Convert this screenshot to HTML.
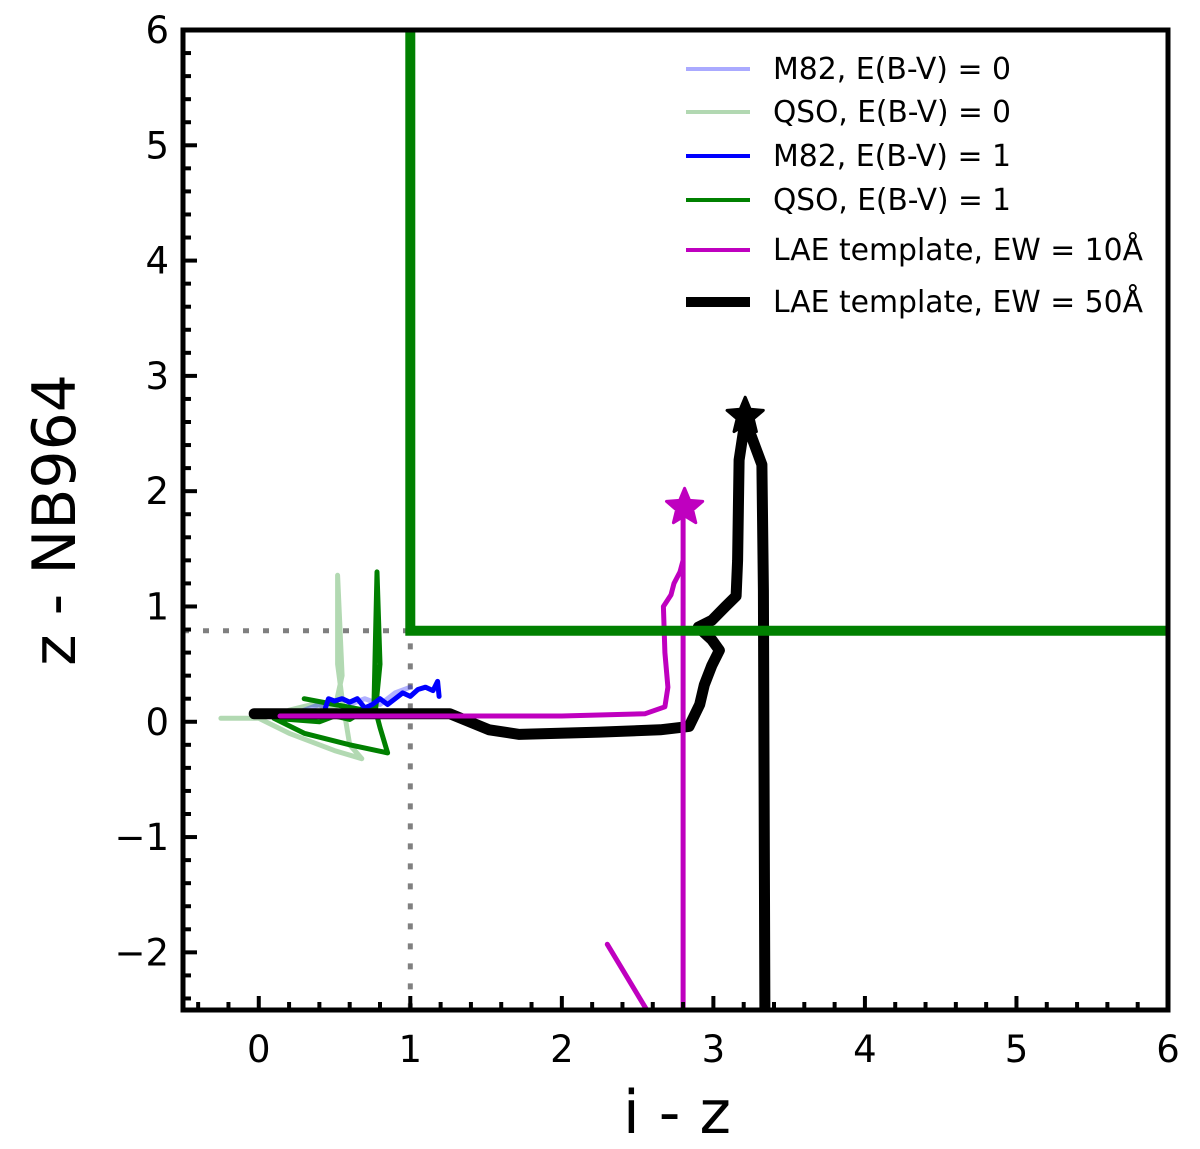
<!DOCTYPE html>
<html><head><meta charset="utf-8"><style>
body{margin:0;background:#fff}
svg{display:block;font-family:"DejaVu Sans","Liberation Sans",sans-serif}
</style></head><body>
<svg id="chart" width="1200" height="1149" viewBox="0 0 1200 1149" xmlns="http://www.w3.org/2000/svg"></svg>
<script>
const xTicks=[0,1,2,3,4,5,6];
const yTicks=[-2,-1,0,1,2,3,4,5,6];
const m82e0X=[0.2,0.3,0.4,0.5,0.6,0.7,0.8,0.9,1.0];
const m82e0Y=[0.05,0.1,0.15,0.05,0.15,0.2,0.15,0.25,0.3];
const qsoe0X=[-0.25,0.0,0.2,0.5,0.68,0.6,0.55,0.52,0.52,0.55,0.5,0.3,0.2,0.35,0.5];
const qsoe0Y=[0.03,0.03,-0.1,-0.25,-0.32,-0.2,0.2,0.5,1.27,0.4,0.1,0.05,0.1,0.15,0.13];
const m82e1X=[0.44,0.46,0.5,0.55,0.6,0.65,0.7,0.75,0.8,0.85,0.9,0.95,1.0,1.05,1.1,1.15,1.18,1.19];
const m82e1Y=[0.12,0.2,0.18,0.2,0.17,0.2,0.12,0.15,0.2,0.15,0.2,0.25,0.22,0.28,0.3,0.27,0.35,0.22];
const qsoe1X=[0.3,0.5,0.7,0.76,0.78,0.8,0.77,0.8,0.85,0.6,0.3,0.1,0.4,0.5,0.6,0.7];
const qsoe1Y=[0.2,0.15,0.1,0.12,1.3,0.5,0.1,-0.05,-0.27,-0.2,-0.1,0.03,0.0,0.05,0.02,0.1];
const lae10X=[0.14,2.0,2.55,2.68,2.7,2.68,2.67,2.72,2.74,2.78,2.8,2.8,2.8];
const lae10Y=[0.05,0.05,0.07,0.13,0.3,0.6,1.0,1.1,1.2,1.3,1.4,1.86,-2.5];
const lae10bX=[2.30,2.57];
const lae10bY=[-1.93,-2.52];
const lae50X=[-0.03,1.26,1.52,1.72,2.25,2.65,2.84,2.91,2.94,2.99,3.04,2.99,2.90,2.99,3.08,3.15,3.16,3.17,3.21,3.32,3.33,3.34];
const lae50Y=[0.07,0.07,-0.07,-0.11,-0.09,-0.07,-0.04,0.15,0.32,0.49,0.62,0.71,0.82,0.88,1.0,1.09,1.40,2.27,2.62,2.23,1.14,-2.52];
const starX=[3.21,2.81];
const starY=[2.65,1.86];
const cutX=1.0, cutY=0.79;

const L=183,R=1168,T=30,B=1010;
const X=v=>L+(v+0.5)/6.5*(R-L);
const Y=v=>B-(v+2.5)/8.5*(B-T);
const svg=document.getElementById('chart');
const NS='http://www.w3.org/2000/svg';
function mk(tag,attrs,parent){const e=document.createElementNS(NS,tag);for(const k in attrs)e.setAttribute(k,attrs[k]);(parent||svg).appendChild(e);return e;}
function pts(xs,ys){return xs.map((x,i)=>X(x).toFixed(1)+','+Y(ys[i]).toFixed(1)).join(' ');}

const defs=mk('defs',{});const cp=mk('clipPath',{id:'pc'},defs);mk('rect',{x:L,y:T,width:R-L,height:B-T},cp);
const g=mk('g',{'clip-path':'url(#pc)'});

let e=mk('polyline',{points:pts([-0.5,cutX,cutX],[cutY,cutY,-2.5]),fill:'none',stroke:'#808080','stroke-width':5,'stroke-dasharray':'6 14'},g);



function series(xs,ys,col,w,name,op){const p=mk('polyline',{points:pts(xs,ys),fill:'none',stroke:col,'stroke-width':w,'stroke-linejoin':'round','stroke-linecap':'round','stroke-opacity':op||1},g);}
series(qsoe0X,qsoe0Y,'#008000',5,'qso-ebv0-line',0.3);
series(m82e0X,m82e0Y,'#0000ff',5,'m82-ebv0-line',0.3);
series(qsoe1X,qsoe1Y,'#008000',5,'qso-ebv1-line');
series(m82e1X,m82e1Y,'#0000ff',5,'m82-ebv1-line');
series(lae50X,lae50Y,'#000000',11,'lae-ew50-line');
series(lae10X,lae10Y,'#bf00bf',5,'lae-ew10-line');
series(lae10bX,lae10bY,'#bf00bf',5,'lae-ew10-segment');

e=mk('polyline',{points:pts([cutX,cutX,6.2],[6.2,cutY,cutY]),fill:'none',stroke:'#008000','stroke-width':10},g);



function star(cx,cy,r,col,name){let s='';for(let i=0;i<10;i++){const a=-Math.PI/2+i*Math.PI/5;const rr=i%2?r*0.45:r;s+=(cx+rr*Math.cos(a)).toFixed(1)+','+(cy+rr*Math.sin(a)).toFixed(1)+' ';}const p=mk('polygon',{points:s,fill:col,stroke:col,'stroke-width':3,'stroke-linejoin':'round'});}
star(X(starX[0]),Y(starY[0]),19,'#000','lae-ew50-star');
star(X(starX[1]),Y(starY[1]),19,'#bf00bf','lae-ew10-star');

const tg=mk('g',{stroke:'#000','stroke-width':4});
for(let v=-0.4;v<=6.001;v+=0.2){const maj=Math.abs(v-Math.round(v))<1e-6;mk('line',{x1:X(v),x2:X(v),y1:B,y2:B-(maj?14:8)},tg);}
for(let v=-2.4;v<=6.001;v+=0.2){const maj=Math.abs(v-Math.round(v))<1e-6;mk('line',{x1:L,x2:L+(maj?14:8),y1:Y(v),y2:Y(v)},tg);}
xTicks.forEach(v=>{const t=mk('text',{x:X(v),y:B+52,'font-size':37,'text-anchor':'middle'});t.textContent=v<0?'\u2212'+(-v):v;});
yTicks.forEach(v=>{const t=mk('text',{x:L-14,y:Y(v)+13,'font-size':37,'text-anchor':'end'});t.textContent=v<0?'\u2212'+(-v):v;});

e=mk('rect',{x:L,y:T,width:R-L,height:B-T,fill:'none',stroke:'#000','stroke-width':5});



let t=mk('text',{x:677,y:1133,'font-size':60,'text-anchor':'middle'});t.textContent='i - z';


t=mk('text',{x:0,y:0,'font-size':60,'text-anchor':'middle',transform:'translate(75,520) rotate(-90)'});t.textContent='z - NB964';



const legLabels=['M82, E(B-V) = 0','QSO, E(B-V) = 0','M82, E(B-V) = 1','QSO, E(B-V) = 1','LAE template, EW = 10\u00C5','LAE template, EW = 50\u00C5'];
const legCols=['#aaaaff','#b2d8b2','#0000ff','#008000','#bf00bf','#000000'];
const legW=[4,4,4,4,4,10];
const legY=[69,112,156,200,250,302];
legLabels.forEach((lab,i)=>{const lg=mk('g',{});
mk('line',{x1:686,x2:750,y1:legY[i],y2:legY[i],stroke:legCols[i],'stroke-width':legW[i]},lg);
const tx=mk('text',{x:773,y:legY[i]+10,'font-size':30,textLength:(i<4?238:370),lengthAdjust:'spacingAndGlyphs'},lg);tx.textContent=lab;});
</script>
</body></html>
